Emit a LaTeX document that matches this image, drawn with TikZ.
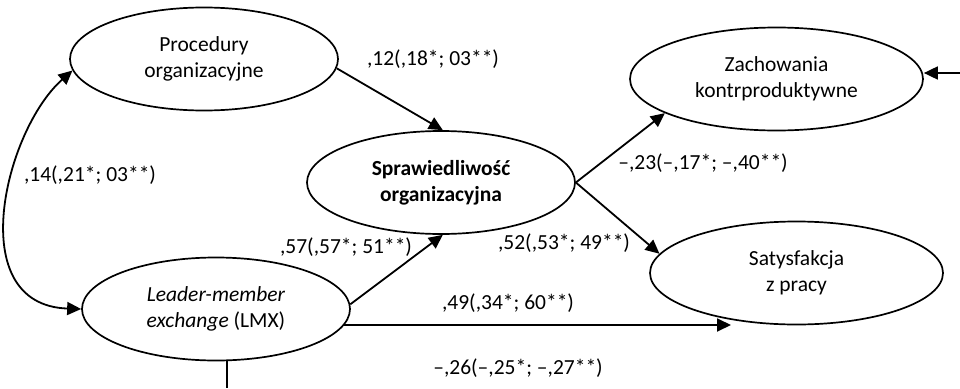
\documentclass[tikz,border=0pt]{standalone}
\usepackage{fontspec}
\setmainfont{Carlito}
\usetikzlibrary{shapes.geometric,arrows.meta}
\tikzset{
  ell/.style={ellipse, draw, line width=1.7pt, minimum width=268pt, minimum height=103pt, inner sep=0pt, align=center, font=\fontsize{21.5}{26}\selectfont},
  wide/.style={minimum width=293pt},
  lab/.style={font=\fontsize{21.5}{24}\selectfont, inner sep=0pt},
  conn/.style={line width=1.8pt},
  arr/.style={conn, -{Triangle[length=14pt,width=13pt]}},
  darr/.style={conn, {Triangle[length=14pt,width=13pt]}-{Triangle[length=14pt,width=13pt]}}
}
\begin{document}
\begin{tikzpicture}[x=1pt,y=1pt]
\useasboundingbox (0,0) rectangle (960,-388);
\node[ell] (proc) at (204,-59) {Procedury\\organizacyjne};
\node[ell] (spr) at (441,-182.5) {\textbf{Sprawiedliwość}\\\textbf{organizacyjna}};
\node[ell] (lmx) at (216,-309) {\textit{Leader-member}\\\textit{exchange} (LMX)};
\node[ell,wide] (zach) at (776.5,-79) {Zachowania\\kontrproduktywne};
\node[ell,wide] (sat) at (796.5,-273) {Satysfakcja\\z pracy};

\coordinate (satin) at (731,-325);
\coordinate (bot) at (227,-388);
\coordinate (rin) at (960,-73);

\draw[arr] (proc.-4) -- (spr.88);
\draw[arr] (lmx.2) -- (spr.-88);
\draw[arr] (spr.east) -- (zach.197);
\draw[arr] (spr.east) -- (sat.172);
\draw[arr] ([xshift=-7pt]lmx.east |- satin) -- (satin);
\draw[conn] (bot |- lmx.south) -- (bot);
\draw[arr] (rin) -- (zach.east |- rin);
\draw[darr] (proc.185) .. controls (5,-130) and (-38,-305) .. (lmx.west);

\node[lab] (l12) at (433,-59) {,12(,18*; 03**)};
\node[lab] (l14) at (90,-175) {,14(,21*; 03**)};
\node[lab] (l57) at (346,-247) {,57(,57*; 51**)};
\node[lab] (l52) at (564,-243) {,52(,53*; 49**)};
\node[lab] (l23) at (703,-163) {–,23(–,17*; –,40**)};
\node[lab] (l49) at (508,-303) {,49(,34*; 60**)};
\node[lab] (l26) at (518,-368) {–,26(–,25*; –,27**)};
\end{tikzpicture}
\end{document}
